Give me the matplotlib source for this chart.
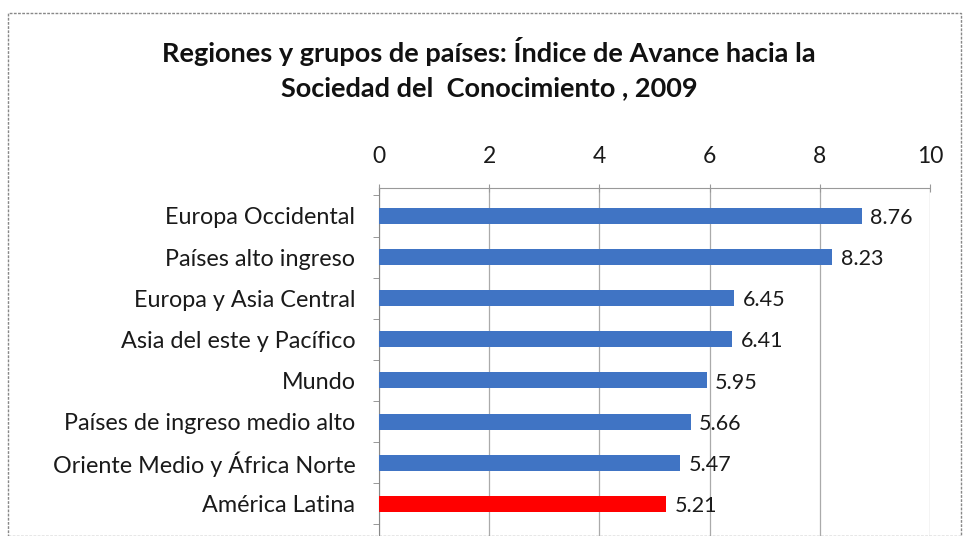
import matplotlib.pyplot as plt
from matplotlib.patches import Rectangle

plt.rcParams['font.family'] = ['Lato', 'DejaVu Sans']

regions = ["Europa Occidental", "Países alto ingreso", "Europa y Asia Central",
           "Asia del este y Pacífico", "Mundo", "Países de ingreso medio alto",
           "Oriente Medio y África Norte", "América Latina"]
values = [8.76, 8.23, 6.45, 6.41, 5.95, 5.66, 5.47, 5.21]
colors = ["#4074C4"] * 7 + ["#FF0000"]
xticks = [0, 2, 4, 6, 8, 10]

W, H = 963, 536
fig = plt.figure(figsize=(W / 100, H / 100), dpi=100)

# outer dashed frame of the chart area
fig.patches.append(Rectangle((8 / W, 0), (W - 10) / W, (H - 13) / H,
                             transform=fig.transFigure, fill=False,
                             edgecolor="#888888", linestyle=(0, (2, 1)), lw=1))

# axes runs off the bottom of the figure, like the cropped original
ax = fig.add_axes([379 / W, (H - 540) / H, (930 - 379) / W, 352 / H])
pos = list(range(len(regions)))
ax.barh(pos, values, height=0.39, color=colors, zorder=3)
for p, v in zip(pos, values):
    ax.text(v + 0.15, p + 0.05, f"{v:.2f}", va="center", ha="left",
            fontsize=15.5, color="#1a1a1a")

ax.set_xlim(0, 10)
ax.set_ylim(7.88, -0.68)
ax.set_yticks(pos)
ax.set_yticklabels(regions, fontsize=16.8, color="#1a1a1a")
ax.tick_params(axis="y", length=0, pad=17)
ax.set_yticks([p - 0.5 for p in pos] + [7.5], minor=True)
ax.tick_params(axis="y", which="minor", length=4, direction="out", color="#888888")

ax.xaxis.tick_top()
ax.set_xticks(xticks)
ax.set_xticklabels([str(t) for t in xticks], fontsize=16.5, color="#1a1a1a")
ax.tick_params(axis="x", length=6, direction="inout", color="#999999", pad=12)
ax.grid(axis="x", color="#aaaaaa", lw=0.9, zorder=0)

for s in ["right", "bottom"]:
    ax.spines[s].set_visible(False)
ax.spines["left"].set_color("#888888")
ax.spines["top"].set_color("#999999")
ax.spines["top"].set_linestyle((0, (1, 1)))

fig.text(0.508, 1 - 52 / H, "Regiones y grupos de países: Índice de Avance hacia la",
         ha="center", va="center", fontsize=19.5, fontweight="bold", color="#111111")
fig.text(0.508, 1 - 88 / H, "Sociedad del  Conocimiento , 2009",
         ha="center", va="center", fontsize=19.5, fontweight="bold", color="#111111")

fig.savefig("out.png", dpi=100)
